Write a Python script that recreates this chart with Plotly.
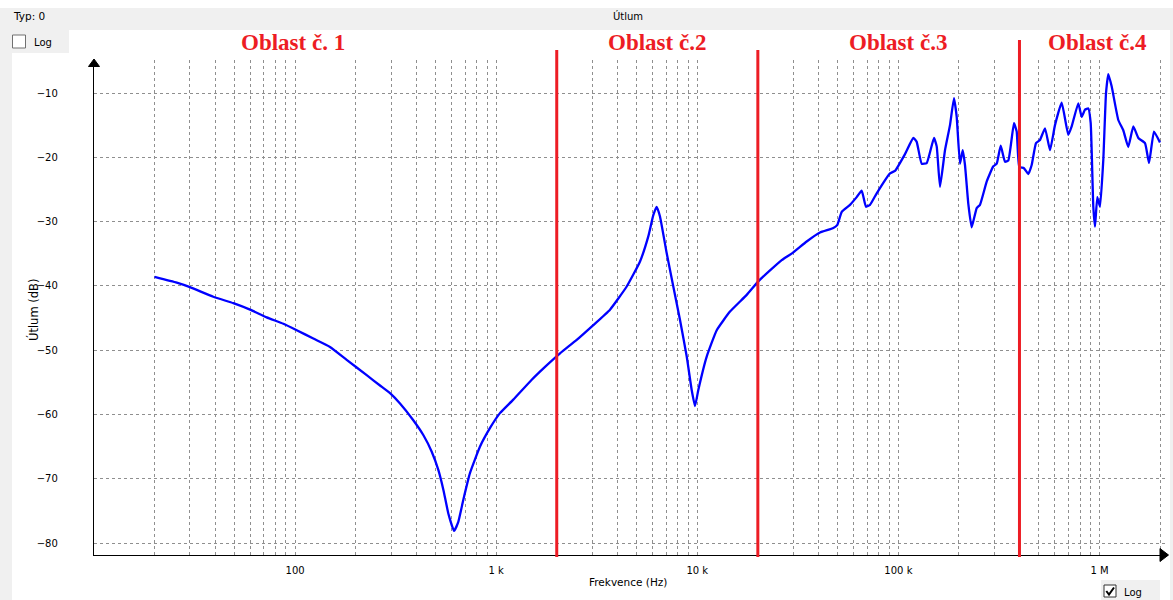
import math
import plotly.graph_objects as go

# ---------------- data ----------------
freq_hz = [
    20, 25.8, 30.0, 39.2, 49.3, 59.7, 72.2, 87.4, 101.9, 123.2, 149.1, 180.5, 227,
    264.4, 296.5, 332.4, 387, 434, 478, 515, 546, 578, 617, 648, 686, 741, 831, 932,
    1044, 1216, 1502, 1749,
    2077, 2514, 3040, 3680, 4456, 5190, 5706, 6042, 6282, 6523, 7042, 7597, 8204,
    8859, 9378, 9741, 10116, 11137, 12489, 14540, 17606, 20105, 22990,
    26280, 30010, 34990, 40760, 47470, 49700, 52270, 57450, 62020, 65680, 69000,
    72240, 78020, 90820, 96180, 107850, 118630, 123310, 130590, 138270, 150310,
    155050, 161020, 170480, 180530, 188990, 194910, 202410, 208740, 214330,
    222580, 231400, 245070, 254500, 274790, 296430, 308200, 322650, 338950,
    352000, 375600, 387500, 399200, 421200, 442400, 460000, 483300, 505900,
    535800, 567400, 600700, 648600, 699500, 727300, 784600, 815700, 847100,
    879700, 904100, 931600, 949800, 975200, 1005800, 1044500, 1077300, 1106100,
    1150000, 1240000, 1313000, 1390000, 1473000, 1560000, 1684000, 1763000,
    1866000, 1999000,
]
atten_db = [
    -38.6, -39.5, -40.2, -41.7, -42.7, -43.7, -44.9, -45.9, -46.9, -48.2, -49.5, -51.5, -53.9,
    -55.5, -56.7, -58.3, -60.9, -63.2, -65.8, -68.6, -71.7, -75.4, -78.1, -76.7, -73.3, -69.1, -65.0, -62.1,
    -59.8, -57.7, -54.6, -52.6,
    -50.5, -48.4, -46.1, -43.7, -40.1, -36.2, -32.3, -29.0, -27.7, -29.2, -34.9, -40.1, -45.3,
    -51.0, -56.2, -58.7, -56.2, -51.0, -46.9, -44.0, -41.4, -39.3, -37.6,
    -36.0, -34.8, -33.1, -31.7, -31.0, -30.5, -28.5, -27.4, -26.2, -25.2, -27.7,
    -27.4, -25.6, -22.5, -22.1, -19.5, -17.0, -17.6, -21.0, -20.9, -17.0,
    -18.3, -24.6, -18.9, -15.0, -10.8, -13.7, -21.0, -18.9, -21.2,
    -27.2, -30.9, -27.9, -27.4, -23.8, -21.4, -21.0, -18.2, -20.7,
    -20.5, -14.7, -16.0, -21.5, -21.7, -22.6, -21.2, -17.8, -17.3,
    -15.5, -18.9, -15.0, -11.5, -16.5, -15.2, -11.6, -13.7, -12.6,
    -12.4, -14.7, -27.7, -30.8, -26.2, -27.7, -20.4, -10.05, -7.05,
    -9.0, -14.2, -15.8, -18.4, -15.2, -17.0, -17.8, -20.9,
    -16.0, -17.7,
]

region_bounds_hz = [2000, 20000, 400000]
region_labels = ["Oblast č. 1", "Oblast č.2", "Oblast č.3", "Oblast č.4"]
region_label_hz = [98, 6300, 100000, 980000]

x_tick_vals = [100, 1000, 10000, 100000, 1000000]
x_tick_text = ["100", "1 k", "10 k", "100 k", "1 M"]
y_tick_vals = [-10, -20, -30, -40, -50, -60, -70, -80]
minor_x_vals = [d * m for d in [10, 100, 1000, 10000, 100000, 1000000]
                for m in range(1, 10) if d * m <= 2000000]

# ---------------- layout geometry ----------------
W, H = 1173, 600
L, R, T, B = 94, 1168, 60, 555


def px(x):
    return (x - L) / (R - L)


def py(y):
    return (B - y) / (B - T)


GRID = "#8f8f8f"
RED = "#ed1c24"
UI_GREY = "#f0f0f0"
UI_FONT = dict(family="DejaVu Sans", size=10, color="#000000")
TITLE_FONT = dict(family="DejaVu Sans", size=10.5, color="#000000")

fig = go.Figure()
fig.add_trace(go.Scatter(
    x=freq_hz, y=atten_db, mode="lines",
    line=dict(color="#0000ff", width=2.3, shape="spline", smoothing=0.4),
    hoverinfo="skip",
))

shapes = []
# window decoration
shapes.append(dict(type="rect", xref="paper", yref="paper", x0=px(0), x1=px(W), y0=py(30), y1=py(8),
                   fillcolor=UI_GREY, line=dict(width=0), layer="below"))
shapes.append(dict(type="rect", xref="paper", yref="paper", x0=px(0), x1=px(12), y0=py(H), y1=py(30),
                   fillcolor=UI_GREY, line=dict(width=0), layer="below"))
shapes.append(dict(type="rect", xref="paper", yref="paper", x0=px(1170), x1=px(W), y0=py(H), y1=py(30),
                   fillcolor=UI_GREY, line=dict(width=0), layer="below"))
shapes.append(dict(type="rect", xref="paper", yref="paper", x0=px(12), x1=px(69), y0=py(53), y1=py(30),
                   fillcolor=UI_GREY, line=dict(width=0), layer="below"))
shapes.append(dict(type="rect", xref="paper", yref="paper", x0=px(12.5), x1=px(25.5), y0=py(48), y1=py(35),
                   fillcolor="white", line=dict(color="#707070", width=1)))
shapes.append(dict(type="rect", xref="paper", yref="paper", x0=px(1101), x1=px(1160), y0=py(H), y1=py(580),
                   fillcolor=UI_GREY, line=dict(width=0), layer="below"))
shapes.append(dict(type="rect", xref="paper", yref="paper", x0=px(1104), x1=px(1116), y0=py(597), y1=py(585),
                   fillcolor="white", line=dict(color="#333333", width=1)))
shapes.append(dict(type="path", xref="paper", yref="paper",
                   path=f"M {px(1106.3)},{py(591)} L {px(1109)},{py(594.5)} L {px(1114)},{py(587.5)}",
                   line=dict(color="#000000", width=2)))
# axis arrows
shapes.append(dict(type="path", xref="paper", yref="paper",
                   path=f"M {px(88.5)},{py(66.5)} L {px(94)},{py(59)} L {px(99.5)},{py(66.5)} Z",
                   fillcolor="black", line=dict(color="black", width=1)))
shapes.append(dict(type="path", xref="paper", yref="paper",
                   path=f"M {px(1160)},{py(548.5)} L {px(1168.5)},{py(555)} L {px(1160)},{py(561.5)} Z",
                   fillcolor="black", line=dict(color="black", width=1)))
# region boundaries
line_tops = [50, 50, 40]
for f, top in zip(region_bounds_hz, line_tops):
    shapes.append(dict(type="line", xref="x", yref="paper", x0=f, x1=f, y0=py(557), y1=py(top),
                       line=dict(color=RED, width=3)))

annotations = []
for lab, f in zip(region_labels, region_label_hz):
    annotations.append(dict(text=lab, xref="x", yref="paper", x=math.log10(f), y=py(42.5),
                            xanchor="center", yanchor="middle", showarrow=False,
                            font=dict(family="Liberation Serif", size=23, color=RED, weight="bold")))
annotations += [
    dict(text="Typ: 0", xref="paper", yref="paper", x=px(11), y=py(16), xanchor="left", yanchor="middle",
         showarrow=False, font=TITLE_FONT),
    dict(text="Útlum", xref="paper", yref="paper", x=px(628), y=py(16), xanchor="center", yanchor="middle",
         showarrow=False, font=UI_FONT),
    dict(text="Log", xref="paper", yref="paper", x=px(32), y=py(42.5), xanchor="left", yanchor="middle",
         showarrow=False, font=UI_FONT),
    dict(text="Log", xref="paper", yref="paper", x=px(1122), y=py(592), xanchor="left", yanchor="middle",
         showarrow=False, font=UI_FONT),
    dict(text="Útlum (dB)", xref="paper", yref="paper", x=px(33), y=py(310), xanchor="center",
         yanchor="middle", textangle=-90, showarrow=False,
         font=dict(family="DejaVu Sans", size=11.5, color="#000000")),
    dict(text="Frekvence (Hz)", xref="paper", yref="paper", x=px(628), y=py(582), xanchor="center",
         yanchor="middle", showarrow=False, font=TITLE_FONT),
]

fig.update_layout(
    width=W, height=H, autosize=False,
    margin=dict(l=L, r=W - R, t=T, b=H - B, pad=0),
    plot_bgcolor="white", paper_bgcolor="white",
    showlegend=False,
    shapes=shapes, annotations=annotations,
    xaxis=dict(
        type="log", range=[1, 1 + (R - L) / 201.1],
        tickmode="array", tickvals=x_tick_vals, ticktext=x_tick_text,
        showgrid=True, gridcolor=GRID, griddash="3px,3px", gridwidth=1,
        minor=dict(tickmode="array", tickvals=minor_x_vals, showgrid=True,
                   gridcolor=GRID, griddash="3px,3px", gridwidth=1, ticks=""),
        showline=True, linecolor="black", linewidth=1.3,
        ticks="", ticklabelstandoff=6, tickfont=UI_FONT,
        zeroline=False, fixedrange=True,
    ),
    yaxis=dict(
        range=[-80 - 12 / 6.4286, -10 + 33 / 6.4286],
        tickmode="array", tickvals=y_tick_vals,
        showgrid=True, gridcolor=GRID, griddash="3px,3px", gridwidth=1,
        showline=True, linecolor="black", linewidth=1.3,
        ticks="", ticklabelstandoff=33, tickfont=UI_FONT,
        zeroline=False, fixedrange=True,
    ),
)

fig.write_html("out.html", config={"displayModeBar": False})
